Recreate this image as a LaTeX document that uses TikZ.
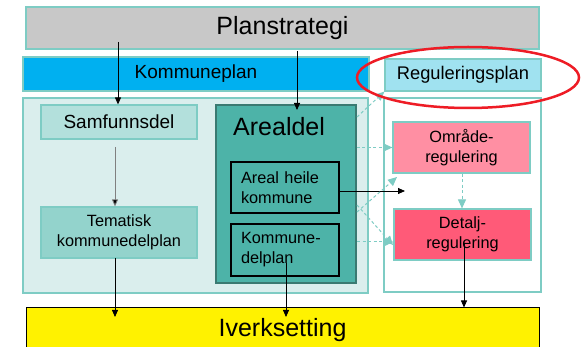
\documentclass[tikz,border=0pt]{standalone}
\usepackage{fontspec}
\setmainfont{Liberation Sans}
\usetikzlibrary{arrows.meta,shapes.geometric}
\definecolor{tealline}{HTML}{7ECCC4}
\definecolor{grayfill}{HTML}{C8C8C8}
\definecolor{kblue}{HTML}{00B0F0}
\definecolor{regblue}{HTML}{A0E2F0}
\definecolor{panelfill}{HTML}{DAEEED}
\definecolor{samffill}{HTML}{B3E0DC}
\definecolor{temfill}{HTML}{93D3CC}
\definecolor{arealfill}{HTML}{4DB3A8}
\definecolor{arealline}{HTML}{3A7A72}
\definecolor{omrfill}{HTML}{FF8FA3}
\definecolor{detfill}{HTML}{FF5A78}
\definecolor{ringred}{HTML}{EE1C25}
\tikzset{
  box/.style={draw=tealline, line width=1.2pt, inner sep=0pt, align=center, text=black},
  inbox/.style={draw=black, line width=1.1pt, fill=arealfill, inner sep=0pt, inner xsep=10pt, align=left, text width=88pt},
  arr/.style={draw=black, line width=0.8pt, -{Triangle[width=6pt,length=7pt]}},
  garr/.style={draw=gray, line width=0.8pt, -{Triangle[width=6pt,length=7pt,fill=black]}},
  darr/.style={draw=tealline, line width=1pt, dash pattern=on 3pt off 2.5pt, -{Triangle[width=8pt,length=9pt]}},
  big/.style={font=\fontsize{25}{30}\selectfont},
  mid/.style={font=\fontsize{19}{23}\selectfont},
  small/.style={font=\fontsize{16.3}{20}\selectfont},
}
\begin{document}
\begin{tikzpicture}[x=1pt,y=-1pt]
\useasboundingbox (0,0) rectangle (581,347);
\fill[white] (0,0) rectangle (581,347);
% top bars
\node[box, fill=grayfill, minimum width=513pt, minimum height=42pt, big] (plan) at (282.5,28) {Planstrategi};
\node[box, fill=kblue, minimum width=346pt, minimum height=34pt, mid] (kplan) at (196,74) {Kommuneplan};
\node[box, fill=regblue, minimum width=156pt, minimum height=32pt, font=\fontsize{18.3}{22}\selectfont] (reg) at (463,75) {Reguleringsplan};
% panels
\node[box, fill=panelfill, minimum width=345pt, minimum height=195pt] (lpanel) at (195.5,195.5) {};
\node[box, fill=white, minimum width=157pt, minimum height=194pt] (rpanel) at (462.5,195) {};
% left column
\node[box, fill=samffill, minimum width=156pt, minimum height=34pt, mid] (samf) at (119,122) {Samfunnsdel};
\node[box, fill=temfill, minimum width=156pt, minimum height=51pt, small] (tem) at (119,232.5) {Tematisk\\kommunedelplan};
% arealdel
\node[draw=arealline, line width=1.5pt, fill=arealfill, inner sep=0pt, minimum width=140pt, minimum height=178pt] (areal) at (286,194) {};
\node[anchor=west, big, inner sep=0pt] (arealtxt) at (233,127) {Arealdel};
\node[inbox, minimum height=51pt, small] (heile) at (285,187.5) {Areal heile\\kommune};
\node[inbox, minimum height=52pt, small] (kdel) at (285,250) {Kommune-\\delplan};
% regulering
\node[box, draw=tealline, fill=omrfill, minimum width=137pt, minimum height=51pt, small] (omr) at (461.5,147.5) {Område-\\regulering};
\node[box, draw=tealline, fill=detfill, minimum width=137pt, minimum height=51pt, small] (det) at (462.5,234.5) {Detalj-\\regulering};
% iverksetting
\node[draw=black, line width=1pt, fill=yellow, inner sep=0pt, minimum width=513pt, minimum height=44pt, big] (iv) at (282.5,330) {Iverksetting};
% coordinates
\coordinate (p1) at (118,42);
\coordinate (p2) at (297,51);
\coordinate (s1) at (115,147);
\coordinate (t1) at (115,258);
\coordinate (k1) at (286,263);
\coordinate (d1) at (464,243);
\coordinate (h1) at (405,191);
\coordinate (a1) at (357,117);
\coordinate (a2) at (357,212);
\coordinate (a3) at (357,205);
\coordinate (a4) at (357,242);
% solid arrows
\draw[arr] (p1) -- (p1 |- samf.north);
\draw[arr] (p2) -- (297,110);
\draw[garr] (s1) -- (s1 |- tem.north);
\draw[arr] (t1) -- (115,317);
\draw[arr] (k1) -- (286,317);
\draw[arr] (d1) -- (d1 |- iv.north);
\draw[arr] (heile.east |- h1) -- (h1);
% dashed arrows
\draw[darr] (a1) -- (reg.south west);
\draw[darr] (areal.east |- omr.west) -- (omr.west);
\draw[darr] (a2) -- (397,177);
\draw[darr] (a3) -- (393,245);
\draw[darr] (a4) -- (a4 -| det.west);
\draw[darr] (omr.south -| 462,0) -- (det.north -| 462,0);
% ring
\node[ellipse, draw=ringred, line width=2.5pt, minimum width=222pt, minimum height=61pt, inner sep=0pt] (ring) at (468,77.5) {};
\end{tikzpicture}
\end{document}
